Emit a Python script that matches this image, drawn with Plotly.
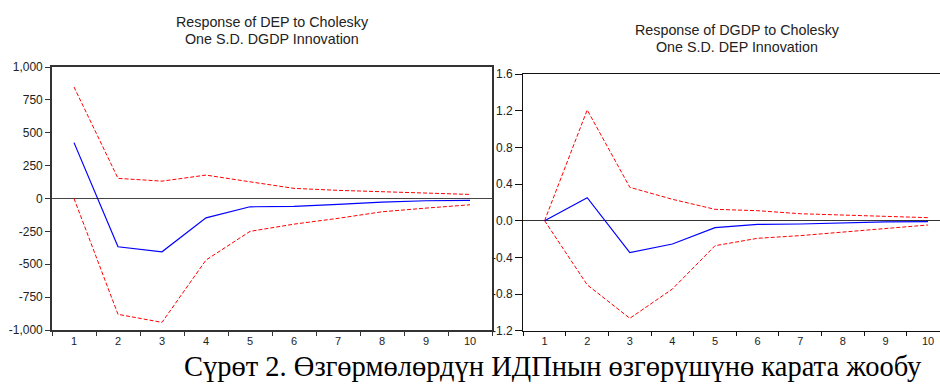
import plotly.graph_objects as go

periods = ["1", "2", "3", "4", "5", "6", "7", "8", "9", "10"]

# Response of DEP to Cholesky One S.D. DGDP Innovation
dep_resp = [425, -367, -405, -147, -63, -60, -45, -27, -17, -15]
dep_upper = [848, 153, 132, 178, 127, 77, 62, 51, 39, 31]
dep_lower = [0, -881, -942, -468, -250, -195, -151, -101, -73, -48]

# Response of DGDP to Cholesky One S.D. DEP Innovation
dgdp_resp = [0.0, 0.251, -0.349, -0.254, -0.076, -0.040, -0.036, -0.022, -0.014, -0.011]
dgdp_upper = [0.0, 1.208, 0.364, 0.233, 0.124, 0.109, 0.076, 0.059, 0.044, 0.033]
dgdp_lower = [0.0, -0.700, -1.065, -0.745, -0.273, -0.192, -0.163, -0.127, -0.083, -0.047]

left_yticks = [1000, 750, 500, 250, 0, -250, -500, -750, -1000]
left_yticklabels = ["1,000", "750", "500", "250", "0", "-250", "-500", "-750", "-1,000"]
right_yticks = [1.6, 1.2, 0.8, 0.4, 0.0, -0.4, -0.8, -1.2]
right_yticklabels = ["1.6", "1.2", "0.8", "0.4", "0.0", "-0.4", "-0.8", "-1.2"]

title_left = ["Response of DEP to Cholesky", "One S.D. DGDP Innovation"]
title_right = ["Response of DGDP to Cholesky", "One S.D. DEP Innovation"]
caption = "Сүрөт 2. Өзгөрмөлөрдүн ИДПнын өзгөрүшүнө карата жообу"

W, H = 940, 385
BLUE = "#0000ff"
RED = "#ff0000"
dash = "4px,2px"

fig = go.Figure()

def add_panel(x_ax, y_ax, resp, up, lo):
    fig.add_trace(go.Scatter(x=periods, y=up, mode="lines", xaxis=x_ax, yaxis=y_ax,
                             line=dict(color=RED, width=1, dash=dash), showlegend=False))
    fig.add_trace(go.Scatter(x=periods, y=lo, mode="lines", xaxis=x_ax, yaxis=y_ax,
                             line=dict(color=RED, width=1, dash=dash), showlegend=False))
    fig.add_trace(go.Scatter(x=periods, y=resp, mode="lines", xaxis=x_ax, yaxis=y_ax,
                             line=dict(color=BLUE, width=1.2), showlegend=False))

add_panel("x", "y", dep_resp, dep_upper, dep_lower)
add_panel("x2", "y2", dgdp_resp, dgdp_upper, dgdp_lower)

tickfont = dict(family="Liberation Sans, Arial", size=11, color="#222")
ytickfont = dict(family="Liberation Sans, Arial", size=12, color="#222")

fig.update_layout(
    width=W, height=H, autosize=False,
    margin=dict(l=0, r=0, t=0, b=0, pad=0),
    paper_bgcolor="white", plot_bgcolor="white",
    xaxis=dict(domain=[52 / W, 492 / W], type="category", range=[-0.5, 9.5],
               tickson="boundaries", ticks="outside", ticklen=4, tickcolor="#333",
               showline=True, linecolor="#333", linewidth=1.6, mirror=True,
               showgrid=False, tickfont=tickfont, anchor="y", automargin=False),
    yaxis=dict(domain=[1 - 330 / H, 1 - 67 / H], range=[-1000, 1000],
               tickmode="array", tickvals=left_yticks, ticktext=left_yticklabels,
               ticks="outside", ticklen=5, tickcolor="#333",
               showline=True, linecolor="#333", linewidth=1.6, mirror=True,
               showgrid=False, zeroline=True, zerolinecolor="#444", zerolinewidth=1.3,
               tickfont=ytickfont, anchor="x", automargin=False),
    xaxis2=dict(domain=[523.3 / W, 1.0], type="category", range=[-0.5, 9.28],
                tickson="boundaries", ticks="outside", ticklen=4, tickcolor="#111",
                showline=True, linecolor="#111", linewidth=1.3, mirror=True,
                showgrid=False, tickfont=tickfont, anchor="y2", automargin=False),
    yaxis2=dict(domain=[1 - 330.7 / H, 1 - 74 / H], range=[-1.2, 1.6],
                tickmode="array", tickvals=right_yticks, ticktext=right_yticklabels,
                ticks="outside", ticklen=7, tickcolor="#111",
                showline=True, linecolor="#111", linewidth=1.3, mirror=False,
                showgrid=False, zeroline=True, zerolinecolor="#333", zerolinewidth=1.3,
                tickfont=ytickfont, anchor="x2", automargin=False),
)

tfont = dict(family="Liberation Sans, Arial", size=14.3, color="#222")
for line, yc in zip(title_left, [22, 39]):
    fig.add_annotation(text=line, xref="paper", yref="paper", x=272 / W, y=1 - yc / H,
                       showarrow=False, xanchor="center", yanchor="middle", font=tfont)
for line, yc in zip(title_right, [30, 47]):
    fig.add_annotation(text=line, xref="paper", yref="paper", x=737 / W, y=1 - yc / H,
                       showarrow=False, xanchor="center", yanchor="middle", font=tfont)
fig.add_annotation(text=caption, xref="paper", yref="paper", x=552.5 / W, y=1 - 366 / H,
                   showarrow=False, xanchor="center", yanchor="middle",
                   font=dict(family="Liberation Serif, Times New Roman", size=28.5, color="#000"))

fig.write_html("out.html", config={"displayModeBar": False},
               post_script="document.body.style.margin='0';document.body.style.overflow='hidden';")
